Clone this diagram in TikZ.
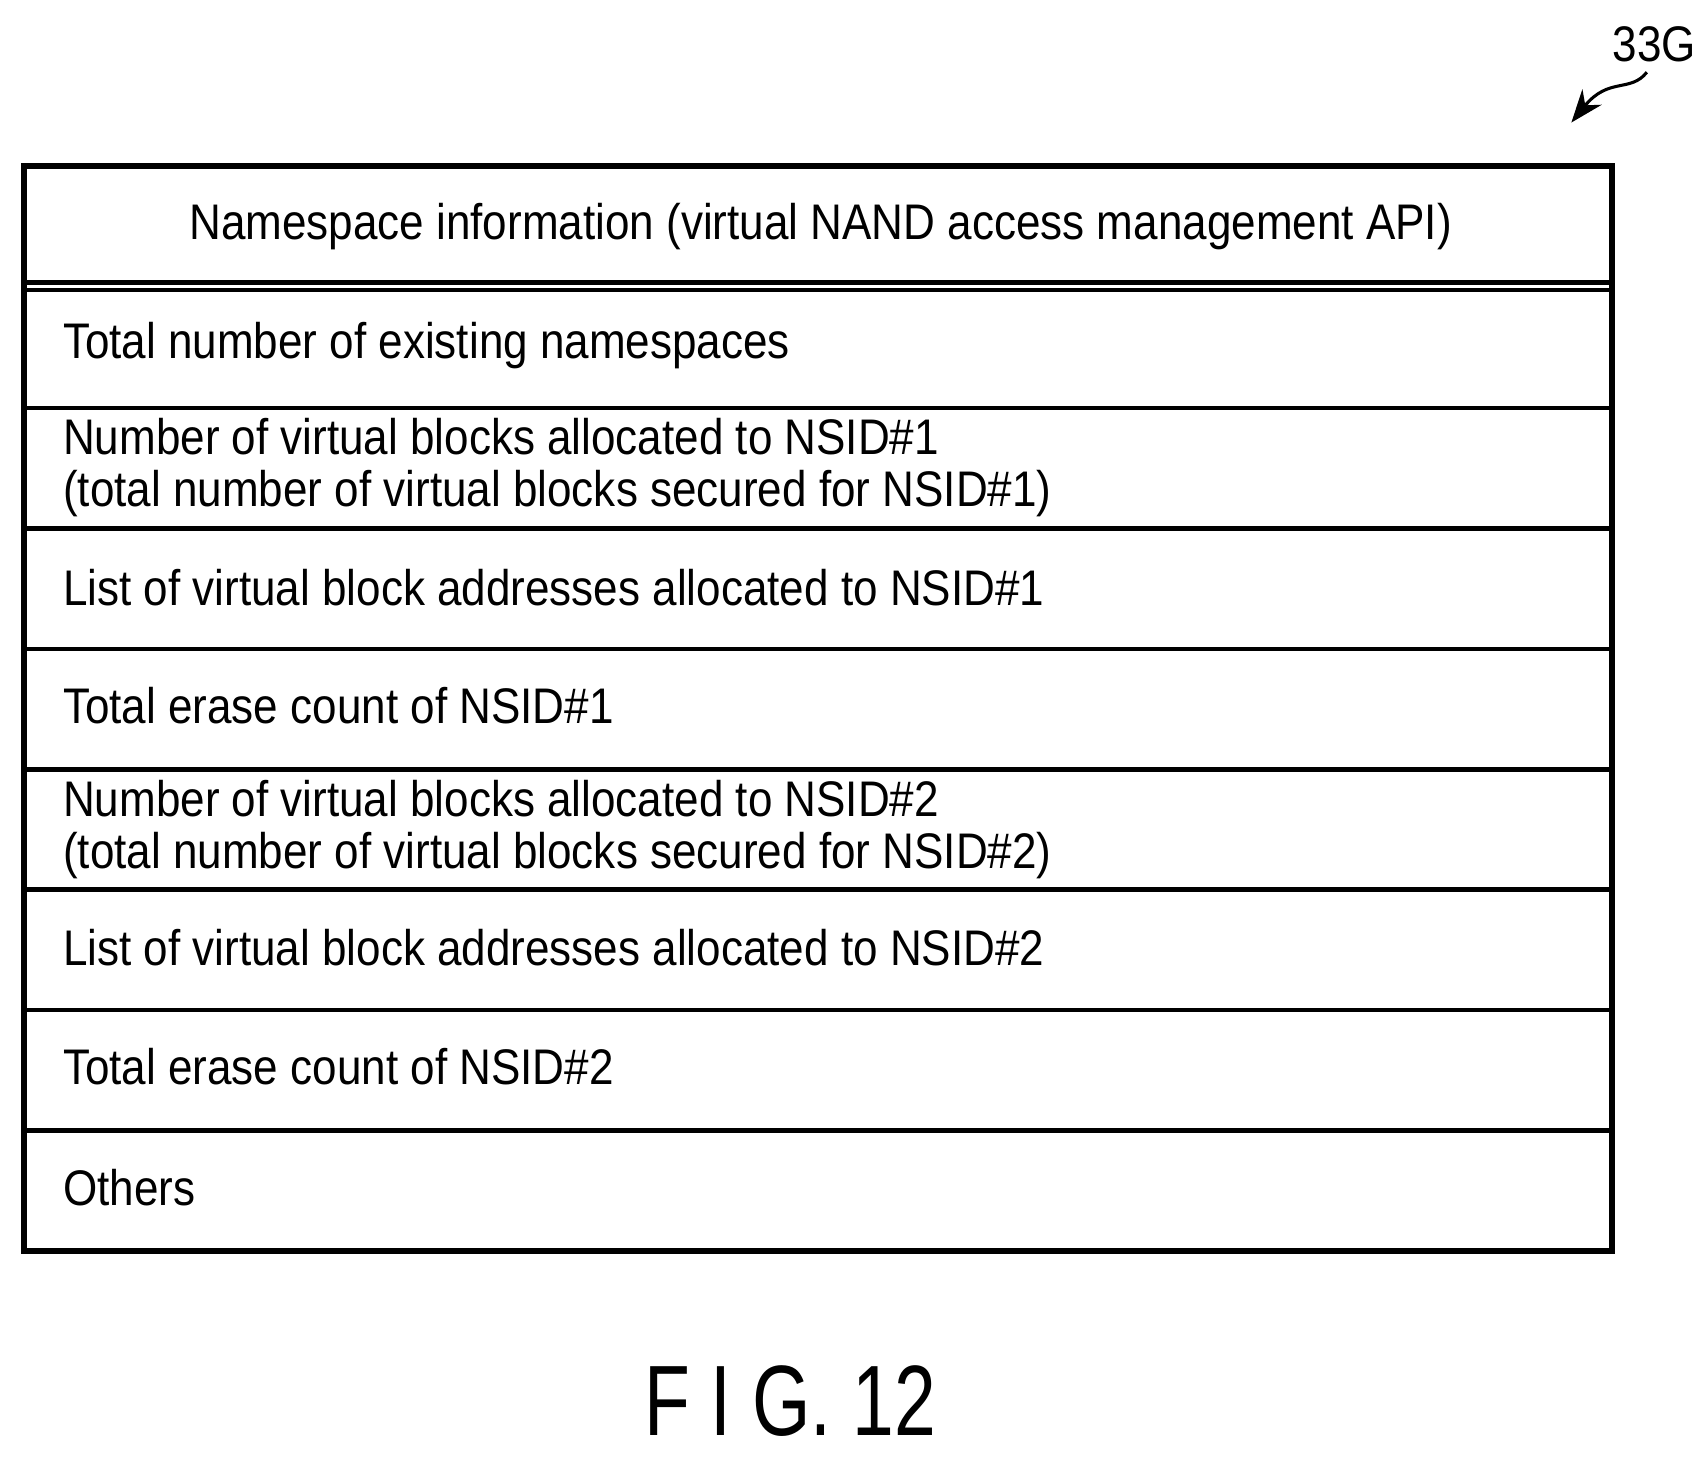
\documentclass[tikz,border=0pt]{standalone}
\usepackage{fontspec}
\setmainfont{Liberation Sans}[FakeStretch=0.88]
\newfontfamily\capfont{Liberation Sans}[FakeStretch=0.75]
\usetikzlibrary{arrows.meta}

\begin{document}
\begin{tikzpicture}[x=0.01cm,y=-0.01cm,
  rowtext/.style={anchor=west, align=left, font=\fontsize{13}{13.5}\selectfont, inner sep=0pt},
  rule/.style={line width=1.2pt}]

\useasboundingbox (0,0) rectangle (1560,1335);

\def\xl{22}
\def\xr{1473}

% frame
\draw[rule, line width=1.6pt] (\xl,152) rectangle (\xr,1143);

% header
\node[font=\fontsize{13}{13.5}\selectfont] (head) at (750,207) {Namespace information (virtual NAND access management API)};
\draw[rule] (\xl,258) -- (\xr,258);
\draw[rule] (\xl,265) -- (\xr,265);

% row separators
\foreach \y in {373,483,593,703,813,923,1033}
  \draw[rule] (\xl,\y) -- (\xr,\y);

% rows
\node[rowtext] (total) at (57,316) {Total number of existing namespaces};
\node[rowtext] (num1) at (57,427) {Number of virtual blocks allocated to NSID\#1\\(total number of virtual blocks secured for NSID\#1)};
\node[rowtext] (list1) at (57,537) {List of virtual block addresses allocated to NSID\#1};
\node[rowtext] (erase1) at (57,645) {Total erase count of NSID\#1};
\node[rowtext] (num2) at (57,758) {Number of virtual blocks allocated to NSID\#2\\(total number of virtual blocks secured for NSID\#2)};
\node[rowtext] (list2) at (57,866) {List of virtual block addresses allocated to NSID\#2};
\node[rowtext] (erase2) at (57,975) {Total erase count of NSID\#2};
\node[rowtext] (others) at (57,1085) {Others};

% reference label
\node[font=\fontsize{13}{13.5}\selectfont] (ref) at (1512,40) {33G};
\coordinate (tip) at (1436,112);
\draw[-{Stealth[length=3mm]}, thick] (1505,66) .. controls (1490,85) and (1470,70) .. (tip);

% figure caption
\node[font=\capfont\fontsize{26}{30}\selectfont] (fig) at (722,1280) {F I G. 12};

\end{tikzpicture}
\end{document}
